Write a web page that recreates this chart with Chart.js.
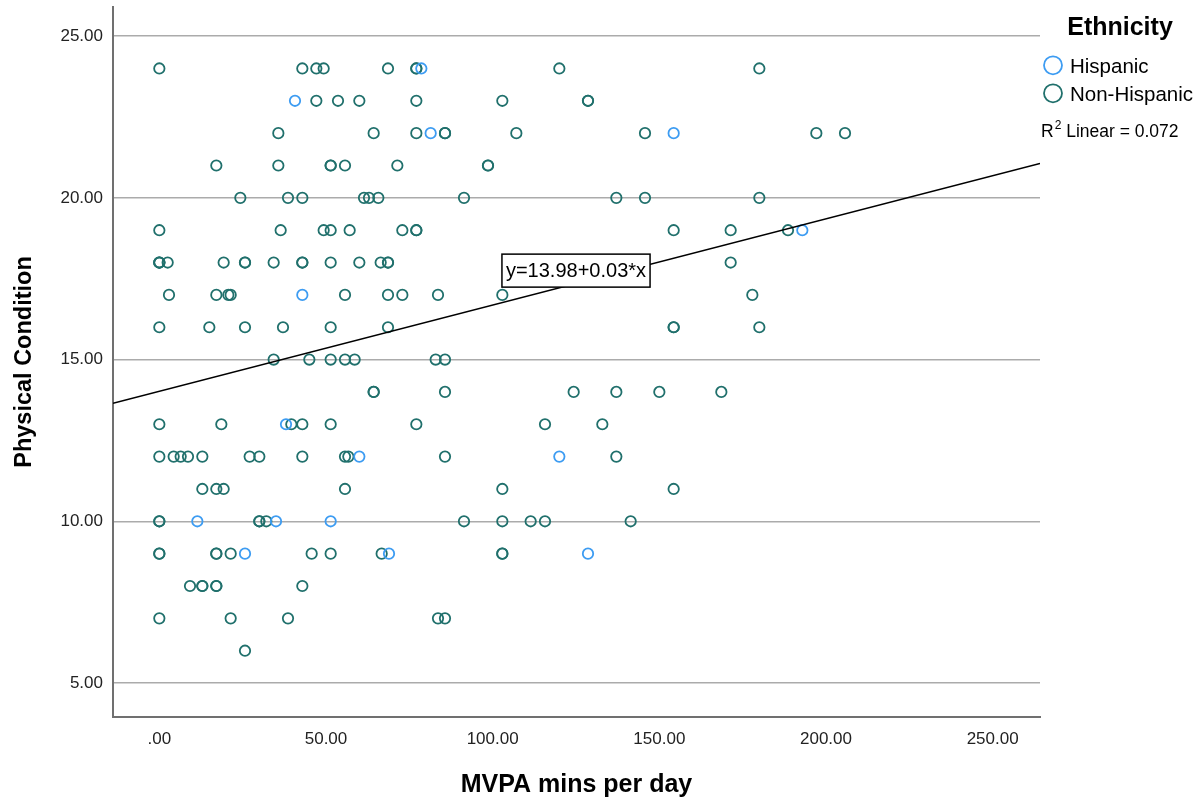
<!DOCTYPE html>
<html><head><meta charset="utf-8">
<script src="https://cdn.jsdelivr.net/npm/chart.js@4.4.1/dist/chart.umd.min.js"></script>
<style>html,body{margin:0;padding:0;background:#fff;}#wrap{width:1203px;height:802px;position:relative;}</style>
</head><body><div id="wrap"><canvas id="c" width="1203" height="802"></canvas></div>
<script>
// ---- data ----
const seriesNames = ['Hispanic', 'Non-Hispanic'];
const legendTitle = 'Ethnicity';
const xTitle = 'MVPA mins per day';
const yTitle = 'Physical Condition';
const fitLabel = 'y=13.98+0.03*x';
const r2Text = 'Linear = 0.072';

const hispanicX = [78.6, 40.7, 81.4, 154.3, 192.9, 42.9, 38.0, 60.0, 120.0, 11.4, 35.0, 51.4, 25.7, 68.9, 128.6];
const hispanicY = [24, 23, 22, 22, 19, 17, 13, 12, 12, 10, 10, 10, 9, 9, 9];

const nonHispanicX = [
  0, 42.9, 47.1, 49.3, 68.6, 77.1, 77.1, 120.0, 180.0,
  47.1, 53.6, 60.0, 77.1, 102.9, 128.6, 128.6,
  35.7, 64.3, 77.1, 85.7, 85.7, 107.1, 145.7, 197.1, 205.7,
  17.1, 35.7, 51.4, 51.4, 55.7, 71.4, 98.6, 98.6,
  24.3, 38.6, 42.9, 61.4, 62.9, 65.7, 91.4, 137.1, 145.7, 180.0,
  0, 36.4, 49.3, 51.4, 57.1, 72.9, 77.1, 77.1, 154.3, 171.4, 188.6,
  0, 0, 0, 2.5, 19.3, 25.7, 25.7, 34.3, 42.9, 42.9, 51.4, 60.0, 66.4, 68.6, 68.6, 171.4,
  2.9, 17.1, 20.7, 21.4, 55.7, 68.6, 72.9, 83.6, 102.9, 177.9,
  0, 15.0, 25.7, 37.1, 51.4, 68.6, 154.3, 154.3, 180.0,
  34.3, 45.0, 51.4, 55.7, 58.6, 82.9, 85.7,
  64.3, 64.3, 85.7, 124.3, 137.1, 150.0, 168.6,
  0, 18.6, 39.6, 42.9, 51.4, 77.1, 115.7, 132.9,
  0, 4.3, 6.4, 8.6, 12.9, 27.1, 30.0, 42.9, 55.7, 56.7, 85.7, 137.1,
  12.9, 17.1, 19.3, 55.7, 102.9, 154.3,
  0, 0, 30.0, 30.0, 32.1, 91.4, 102.9, 111.4, 115.7, 141.4,
  0, 0, 17.1, 17.1, 21.4, 45.7, 51.4, 66.7, 102.9, 102.9,
  9.2, 12.9, 12.9, 17.1, 17.1, 42.9,
  0, 21.4, 38.6, 83.6, 85.7,
  25.7
];
const nonHispanicY = [
  24, 24, 24, 24, 24, 24, 24, 24, 24,
  23, 23, 23, 23, 23, 23, 23,
  22, 22, 22, 22, 22, 22, 22, 22, 22,
  21, 21, 21, 21, 21, 21, 21, 21,
  20, 20, 20, 20, 20, 20, 20, 20, 20, 20,
  19, 19, 19, 19, 19, 19, 19, 19, 19, 19, 19,
  18, 18, 18, 18, 18, 18, 18, 18, 18, 18, 18, 18, 18, 18, 18, 18,
  17, 17, 17, 17, 17, 17, 17, 17, 17, 17,
  16, 16, 16, 16, 16, 16, 16, 16, 16,
  15, 15, 15, 15, 15, 15, 15,
  14, 14, 14, 14, 14, 14, 14,
  13, 13, 13, 13, 13, 13, 13, 13,
  12, 12, 12, 12, 12, 12, 12, 12, 12, 12, 12, 12,
  11, 11, 11, 11, 11, 11,
  10, 10, 10, 10, 10, 10, 10, 10, 10, 10,
  9, 9, 9, 9, 9, 9, 9, 9, 9, 9,
  8, 8, 8, 8, 8, 8,
  7, 7, 7, 7, 7,
  6
];

// fit line end points (at the plot edges)
const fitX = [-13.9, 264.2];
const fitY = [13.65, 21.06];

const xTicks = [0, 50, 100, 150, 200, 250];
const yTicks = [5, 10, 15, 20, 25];

// ---- styling ----
const FONT = '"Liberation Sans", Arial, Helvetica, sans-serif';
const COL_HISP = '#3d9cf2';
const COL_NON = '#20706c';
Chart.defaults.font.family = FONT;

const zip = (xs, ys) => xs.map((v, i) => ({x: v, y: ys[i]}));
const fmt = v => { const s = Number(v).toFixed(2); return s.startsWith('0.') ? s.slice(1) : s; };

const overlay = {
  id: 'overlay',
  afterDraw(chart) {
    const {ctx, scales: {x, y}, chartArea} = chart;
    ctx.save();
    // equation label box, anchored on the fit line region
    const cx = x.getPixelForValue(125), cy = y.getPixelForValue(17.75);
    ctx.font = '20px ' + FONT;
    const tw = ctx.measureText(fitLabel).width;
    const w = tw + 8, h = 33;
    ctx.fillStyle = '#fff';
    ctx.fillRect(cx - w / 2, cy - h / 2, w, h);
    ctx.strokeStyle = '#000'; ctx.lineWidth = 1.5;
    ctx.strokeRect(cx - w / 2, cy - h / 2, w, h);
    ctx.fillStyle = '#000'; ctx.textAlign = 'center'; ctx.textBaseline = 'middle';
    ctx.fillText(fitLabel, cx, cy + 1);

    // legend
    const lx = chartArea.right;
    ctx.textAlign = 'center'; ctx.textBaseline = 'alphabetic';
    ctx.font = 'bold 25px ' + FONT;
    ctx.fillText(legendTitle, lx + 80, 35);
    const cols = [COL_HISP, COL_NON];
    const ys = [65.3, 93.3];
    ctx.font = '20.5px ' + FONT;
    ctx.textAlign = 'left';
    seriesNames.forEach((n, i) => {
      ctx.beginPath();
      ctx.arc(lx + 13, ys[i], 9, 0, Math.PI * 2);
      ctx.strokeStyle = cols[i]; ctx.lineWidth = 1.8; ctx.stroke();
      ctx.fillStyle = '#000';
      ctx.fillText(n, lx + 30, ys[i] + 8);
    });
    // R^2
    ctx.font = '17.5px ' + FONT;
    ctx.fillText('R', lx + 1, 136.7);
    const rw = ctx.measureText('R').width;
    ctx.font = '12px ' + FONT;
    ctx.fillText('2', lx + 1 + rw + 1, 129);
    const sw = ctx.measureText('2').width;
    ctx.font = '17.5px ' + FONT;
    ctx.fillText(' ' + r2Text, lx + 2 + rw + sw, 136.7);
    ctx.restore();
  }
};

new Chart(document.getElementById('c'), {
  data: {
    datasets: [
      {
        type: 'line', label: 'fit', data: zip(fitX, fitY), order: -1,
        borderColor: '#000', borderWidth: 1.5, pointRadius: 0, fill: false, tension: 0
      },
      {
        type: 'scatter', label: seriesNames[0], data: zip(hispanicX, hispanicY), order: 0,
        pointStyle: 'circle', pointRadius: 5.2, pointBorderWidth: 1.8,
        borderColor: COL_HISP, backgroundColor: 'rgba(0,0,0,0)', pointBackgroundColor: 'rgba(0,0,0,0)'
      },
      {
        type: 'scatter', label: seriesNames[1], data: zip(nonHispanicX, nonHispanicY), order: 1,
        pointStyle: 'circle', pointRadius: 5.2, pointBorderWidth: 1.8,
        borderColor: COL_NON, backgroundColor: 'rgba(0,0,0,0)', pointBackgroundColor: 'rgba(0,0,0,0)'
      }
    ]
  },
  options: {
    responsive: false,
    animation: false,
    events: [],
    layout: {padding: {left: 0, right: 163, top: 7, bottom: 0}},
    plugins: {legend: {display: false}, tooltip: {enabled: false}},
    scales: {
      x: {
        type: 'linear', position: 'bottom', min: -13.9, max: 264.2,
        afterFit: s => { s.height = 85; s.paddingLeft = 0; s.paddingRight = 0; },
        afterBuildTicks: s => { s.ticks = xTicks.map(v => ({value: v})); },
        grid: {display: false, drawTicks: false},
        border: {display: true, color: '#707070', width: 2},
        ticks: {padding: 12, color: '#222', font: {size: 17}, callback: v => fmt(v), maxRotation: 0, autoSkip: false},
        title: {display: true, text: xTitle, color: '#000', font: {size: 25, weight: 'bold'}, padding: {top: 0, bottom: 2}}
      },
      y: {
        type: 'linear', min: 3.95, max: 25.9,
        afterFit: s => { s.width = 113; s.paddingTop = 0; s.paddingBottom = 0; },
        afterBuildTicks: s => { s.ticks = yTicks.map(v => ({value: v})); },
        grid: {display: true, drawTicks: false, color: '#ababab', lineWidth: 1.5},
        border: {display: true, color: '#707070', width: 2},
        ticks: {padding: 10, color: '#222', font: {size: 17}, callback: v => fmt(v), autoSkip: false},
        title: {display: true, text: yTitle, color: '#000', font: {size: 23.5, weight: 'bold'}, padding: {top: 10, bottom: 0}}
      }
    }
  },
  plugins: [overlay]
});
</script></body></html>
